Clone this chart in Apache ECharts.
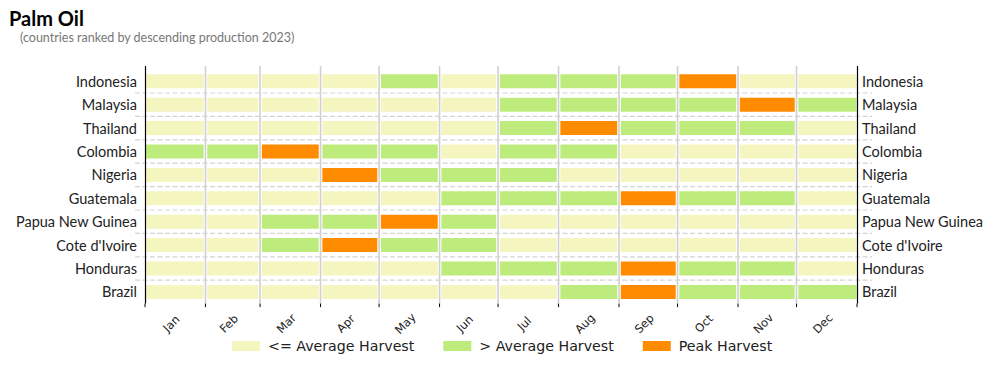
<!DOCTYPE html>
<html><head><meta charset="utf-8">
<script src="https://cdn.jsdelivr.net/npm/echarts@6/dist/echarts.min.js"></script>
<style>html,body{margin:0;padding:0;background:#fff}#c{width:994px;height:368px}</style>
</head><body><div id="c"></div>
<script>
// ---- data ----
const countries = ['Indonesia','Malaysia','Thailand','Colombia','Nigeria','Guatemala','Papua New Guinea',"Cote d'Ivoire",'Honduras','Brazil'];
const months = ['Jan','Feb','Mar','Apr','May','Jun','Jul','Aug','Sep','Oct','Nov','Dec'];
const monthDays = [31,28,31,30,31,30,31,31,30,31,30,31];
const statusNames = ['<= Average Harvest','> Average Harvest','Peak Harvest'];
const statusColors = ['#f4f5bf','#bdec7d','#ff8c00'];
// 0 = <= average, 1 = > average, 2 = peak (Jan..Dec)
const indonesia   = [0,0,0,0,1,0,1,1,1,2,0,0];
const malaysia    = [0,0,0,0,0,0,1,1,1,1,2,1];
const thailand    = [0,0,0,0,0,0,1,2,1,1,1,0];
const colombia    = [1,1,2,1,1,0,1,1,0,0,0,0];
const nigeria     = [0,0,0,2,1,1,1,0,0,0,0,0];
const guatemala   = [0,0,0,0,0,1,1,1,2,1,1,0];
const papuaNG     = [0,0,1,1,2,1,0,0,0,0,0,0];
const coteIvoire  = [0,0,1,2,1,1,0,0,0,0,0,0];
const honduras    = [0,0,0,0,0,1,1,1,2,1,1,0];
const brazil      = [0,0,0,0,0,0,0,1,2,1,1,1];
const harvest = [indonesia,malaysia,thailand,colombia,nigeria,guatemala,papuaNG,coteIvoire,honduras,brazil];

// ---- build ----
const monthStart = [];
let acc = 0;
monthDays.forEach(d => { monthStart.push(acc); acc += d; });
const yearDays = acc;
const boundaries = monthStart.concat([yearDays]);

const cellData = [[],[],[]];
harvest.forEach((row, i) => row.forEach((s, m) => {
  cellData[s].push([monthStart[m], monthStart[m] + monthDays[m], i, s, m]);
}));

function renderCell(params, api) {
  const s = api.value(0), e = api.value(1), row = api.value(2), m = api.value(4);
  const p0 = api.coord([s, row]), p1 = api.coord([e, row]);
  const band = api.size([0, 1])[1];
  const h = band * 0.6;
  const x0 = p0[0] + (m === 0 ? 0.5 : 1.8);
  const x1 = p1[0] - (m === 11 ? 0.5 : 1.8);
  return { type: 'rect', shape: { x: x0, y: p0[1] - h / 2, width: x1 - x0, height: h },
           style: { fill: api.visual('color') } };
}

const series = statusNames.map((name, k) => ({
  name: name, type: 'custom', renderItem: renderCell, data: cellData[k],
  itemStyle: { color: statusColors[k] }, z: 3, silent: true
}));

// vertical grid lines + ticks at month boundaries
series.push({
  type: 'custom', silent: true, z: 2,
  data: boundaries.map(d => [d]),
  renderItem: function (params, api) {
    const cs = params.coordSys;
    const x = api.coord([api.value(0), 0])[0];
    const d = api.value(0);
    const children = [];
    if (d !== 0 && d !== yearDays) {
      children.push({ type: 'line', shape: { x1: x, y1: cs.y - 3.6, x2: x, y2: cs.y + cs.height },
        style: { stroke: '#d0d0d0', lineWidth: 1.6 } });
    }
    children.push({ type: 'line', shape: { x1: x, y1: cs.y + cs.height, x2: x, y2: cs.y + cs.height + 3.5 },
      style: { stroke: '#000', lineWidth: 1 } });
    return { type: 'group', children: children };
  }
});

// horizontal dashed separators between rows
series.push({
  type: 'custom', silent: true, z: 1,
  data: countries.slice(0, -1).map((c, i) => [i]),
  renderItem: function (params, api) {
    const cs = params.coordSys;
    const i = api.value(0);
    const y = (api.coord([0, i])[1] + api.coord([0, i + 1])[1]) / 2;
    return { type: 'line', shape: { x1: cs.x - 10, y1: y, x2: cs.x + cs.width + 15, y2: y },
      style: { stroke: '#d3d3d3', lineWidth: 1.2, lineDash: [5, 2.5] } };
  }
});

// left and right spines
series.push({
  type: 'custom', silent: true, z: 4,
  data: [[0], [yearDays]],
  renderItem: function (params, api) {
    const cs = params.coordSys;
    const x = Math.round(api.coord([api.value(0), 0])[0]) + 0.5;
    return { type: 'line', shape: { x1: x, y1: cs.y - 3.6, x2: x, y2: cs.y + cs.height },
      style: { stroke: '#000', lineWidth: 1.2 } };
  }
});

// month labels (rotated)
series.push({
  type: 'custom', silent: true, z: 4,
  data: months.map((mName, m) => [monthStart[m] + monthDays[m] / 2, m]),
  renderItem: function (params, api) {
    const cs = params.coordSys;
    const x = api.coord([api.value(0), 0])[0] - 4;
    const m = api.value(1);
    return { type: 'text', x: x, y: cs.y + cs.height + 20, rotation: Math.PI / 4,
      style: { text: months[m], fill: '#222', font: '11.5px "DejaVu Sans"', align: 'center', verticalAlign: 'middle' } };
  }
});

const chart = echarts.init(document.getElementById('c'), null, { renderer: 'svg' });
chart.setOption({
  animation: false,
  title: [
    { text: 'Palm Oil', left: 9, top: 8, padding: 0,
      textStyle: { fontFamily: 'Lato', fontWeight: 'bold', fontSize: 20, lineHeight: 20, color: '#000' } },
    { text: '(countries ranked by descending production 2023)', left: 20, top: 30, padding: 0,
      textStyle: { fontFamily: 'Lato', fontWeight: 'normal', fontSize: 12.5, lineHeight: 14, color: '#777' } }
  ],
  legend: {
    data: statusNames, left: 227, top: 334, itemWidth: 28, itemHeight: 10, itemGap: 29,
    icon: 'rect', textStyle: { fontFamily: 'DejaVu Sans', fontSize: 14.2, color: '#222', padding: [0, 0, 0, 3] }
  },
  grid: { left: 145, right: 137, top: 69.6, height: 234 },
  xAxis: { type: 'value', min: 0, max: yearDays, show: false },
  yAxis: [
    { type: 'category', data: countries, inverse: true, position: 'left',
      axisLine: { show: false }, axisTick: { show: false }, splitLine: { show: false },
      axisLabel: { fontFamily: 'Lato', fontSize: 14.5, color: '#222', margin: 8 } },
    { type: 'category', data: countries, inverse: true, position: 'right',
      axisLine: { show: false }, axisTick: { show: false }, splitLine: { show: false },
      axisLabel: { fontFamily: 'Lato', fontSize: 14.5, color: '#222', margin: 5 } }
  ],
  series: series
});
</script></body></html>
